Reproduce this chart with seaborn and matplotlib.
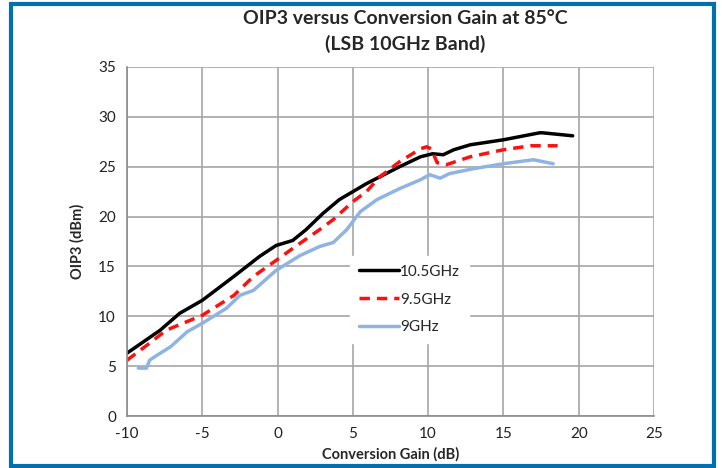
import numpy as np
import pandas as pd
import matplotlib
matplotlib.use("Agg")
import matplotlib.pyplot as plt
import seaborn as sns
from matplotlib.patches import Rectangle
from matplotlib.ticker import MultipleLocator

# values
gain_105 = [-10.0, -7.8, -6.5, -5.0, -2.9, -1.2, -0.1, 1.0, 1.9, 3.0, 4.1, 5.0, 5.9, 8.1,
            9.5, 10.3, 11.0, 11.7, 12.8, 15.0, 17.4, 17.6, 19.6]
oip3_105 = [6.3, 8.6, 10.3, 11.6, 14.0, 16.0, 17.1, 17.6, 18.7, 20.3, 21.7, 22.5, 23.3, 25.0,
            26.0, 26.3, 26.2, 26.7, 27.2, 27.7, 28.4, 28.4, 28.1]

gain_95 = [-10.0, -8.5, -7.4, -5.0, -2.9, -1.6, -0.1, 1.0, 2.8, 3.7, 5.0, 5.9, 6.8, 8.1,
           9.5, 9.9, 10.2, 10.6, 11.2, 12.8, 15.0, 16.8, 18.6]
oip3_95 = [5.6, 7.3, 8.6, 10.1, 12.1, 14.0, 15.6, 16.8, 18.7, 19.7, 21.5, 22.5, 24.0, 25.5,
           26.8, 27.0, 26.8, 25.4, 25.2, 26.0, 26.7, 27.1, 27.1]

gain_9 = [-9.25, -8.7, -8.5, -8.0, -7.1, -6.0, -5.0, -3.4, -2.5, -1.6, -0.1, 1.5, 2.8, 3.7,
          4.6, 5.5, 6.6, 8.1, 9.5, 10.1, 10.8, 11.4, 13.0, 15.0, 17.0, 18.3]
oip3_9 = [4.8, 4.8, 5.6, 6.1, 6.95, 8.45, 9.3, 10.8, 12.1, 12.6, 14.6, 16.1, 17.0, 17.4,
          18.7, 20.5, 21.7, 22.8, 23.7, 24.2, 23.85, 24.3, 24.8, 25.3, 25.7, 25.3]

series = ["10.5GHz", "9.5GHz", "9GHz"]

df = pd.concat([
    pd.DataFrame({"gain": gain_105, "oip3": oip3_105, "band": series[0]}),
    pd.DataFrame({"gain": gain_95, "oip3": oip3_95, "band": series[1]}),
    pd.DataFrame({"gain": gain_9, "oip3": oip3_9, "band": series[2]}),
], ignore_index=True)

sns.set_style("white")
plt.rcParams["font.family"] = ["Lato", "DejaVu Sans"]
plt.rcParams["axes.unicode_minus"] = False

fig = plt.figure(figsize=(7.22, 4.68), dpi=100)
ax = fig.add_axes([127 / 722, 1 - 416 / 468, 527 / 722, 349 / 468])

palette = {"10.5GHz": "black", "9.5GHz": "#ff1010", "9GHz": "#8fb4e3"}
sns.lineplot(data=df, x="gain", y="oip3", hue="band", style="band", palette=palette,
             dashes={"10.5GHz": "", "9.5GHz": (3, 2), "9GHz": ""},
             sort=False, estimator=None, linewidth=2.5, ax=ax, legend=True)

ax.set_xlim(-10, 25)
ax.set_ylim(0, 35)
ax.xaxis.set_major_locator(MultipleLocator(5))
ax.yaxis.set_major_locator(MultipleLocator(5))
ax.xaxis.set_minor_locator(MultipleLocator(1))
ax.yaxis.set_minor_locator(MultipleLocator(1))
ax.grid(True, which="major", color="#a6a6a6", linewidth=1.2)
ax.set_axisbelow(True)
ax.tick_params(which="major", length=0, labelsize=11, pad=8, colors="#222222")
ax.tick_params(which="minor", direction="in", length=4, color="#a6a6a6")
for side in ["top", "right"]:
    ax.spines[side].set_visible(False)
for side in ["left", "bottom"]:
    ax.spines[side].set_color("#8c8c8c")
    ax.spines[side].set_linewidth(1.2)

ax.set_xlabel("Conversion Gain (dB)", fontsize=10.5, fontweight="bold", labelpad=4)
ax.set_ylabel("OIP3 (dBm)", fontsize=10.5, fontweight="bold", labelpad=10)

leg = ax.legend(loc="upper left", bbox_to_anchor=(215 / 527, 1 - 181 / 349), frameon=True,
                fontsize=11, handlelength=2.6, handletextpad=0.1, labelspacing=0.9,
                borderpad=0.6)
leg.get_frame().set_facecolor("white")
leg.get_frame().set_edgecolor("white")
leg.get_frame().set_alpha(1)

fig.text(405 / 722, 1 - 18 / 468, "OIP3 versus Conversion Gain at 85°C", ha="center", va="center",
         fontsize=14, fontweight="bold")
fig.text(405 / 722, 1 - 44 / 468, "(LSB 10GHz Band)", ha="center", va="center",
         fontsize=14, fontweight="bold")

# blue frame around the chart
fig.patches.append(Rectangle((11 / 722, 2 / 468), 703 / 722, 462 / 468, transform=fig.transFigure,
                             fill=False, edgecolor="#0070b0", linewidth=3))

fig.savefig("out.png", dpi=100)
